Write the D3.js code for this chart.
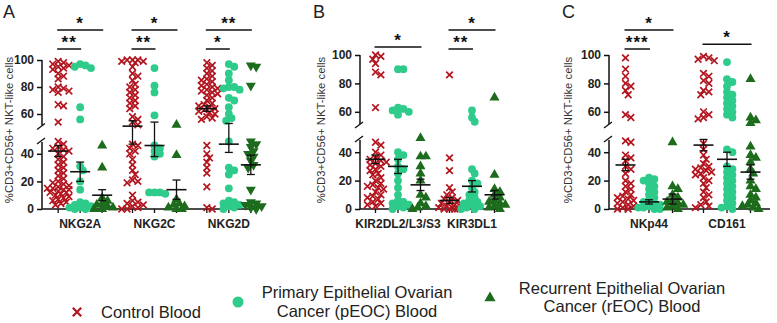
<!DOCTYPE html>
<html><head><meta charset="utf-8">
<script src="https://cdn.jsdelivr.net/npm/d3@7"></script>
<style>body{margin:0;background:#fff}svg{display:block}text{font-family:"Liberation Sans",Arial,sans-serif}</style>
</head><body><svg id="c" width="777" height="323"></svg>
<script>
const groups = ["Control Blood", "Primary Epithelial Ovarian Cancer (pEOC) Blood", "Recurrent Epithelial Ovarian Cancer (rEOC) Blood"];
const categories = ["NKG2A", "NKG2C", "NKG2D", "KIR2DL2/L3/S3", "KIR3DL1", "NKp44", "CD161"];
const panelLetters = ["A", "B", "C"];
const panelCategories = [[0, 1, 2], [3, 4], [5, 6]];
const yTitle = "%CD3+CD56+ NKT-like cells";
const yTicksLower = [0, 20, 40];
const yTicksUpper = [60, 80, 100];

const controlValues = [
  [99,98,97,96,95,94,93,90,88,86,80,79,78,77,76,67,66,54,49,47,45,44,43,42,40,38,36,34,32,30,28,26,24,22,20,19,18,17,16,15,15,14,14,13,12,12,11,10,9,8,7,6,5,4,3],
  [100,100,100,99,99,98,95,90,88,85,82,80,78,76,74,72,70,68,66,64,58,56,54,52,47,46,44,42,40,36,32,28,25,21,20,19,10,6,5,4,3,2,1,0,0],
  [98,96,94,92,90,88,86,85,84,82,81,80,79,78,77,76,75,74,72,70,68,67,66,65,64,63,62,61,60,58,57,56,46,40,37,34,30,26,16,1,0],
  [100,99,97,94,88,86,63,47,45,40,38,36,35,34,33,32,31,30,28,27,25,24,22,20,18,17,16,15,14,12,10,9,8,7,5,4,3,2],
  [86,36,27,15,12,10,8,7,6,5,4,3,2,2,1,1,0,0,0,0],
  [98,90,85,80,78,75,72,58,56,48,47,38,36,34,30,28,25,20,18,16,14,12,10,9,8,7,6,5,4,3,2,1,0,0],
  [99,98,97,96,87,85,82,80,75,74,72,60,58,56,55,46,42,38,35,32,30,29,28,27,26,25,24,22,20,18,15,12,10,8,5,3,2,1]
];
const pEOCValues = [
  [97,96,95,94,65,56,31,28,20,14,5,4,3,2,1,1,0,0],
  [94,81,76,59,46,44,42,40,38,12,12,12,11],
  [97,95,90,85,80,80,79,78,72,70,65,60,57,55,49,30,28,25,15,6,5,4,3,2,1,0],
  [90,90,63,62,61,60,58,40,38,35,30,28,25,20,15,10,6,5,4,3,2,1,0],
  [61,56,53,28,25,20,18,15,12,10,8,6,5,4,3,2,1,0,0],
  [22,21,20,18,16,14,12,10,8,6,5,4,3,2,1,1,0,0],
  [95,83,81,78,74,72,70,68,66,64,62,60,58,56,42,40,30,28,26,24,22,20,18,16,14,12,10,8,6,4,2,1,0]
];
const rEOCValues = [
  [46,30,8,6,4,3,2,1,0,0],
  [52,39,7,4,3,2,1,0,0],
  [96,95,81,49,47,45,42,40,38,35,32,30,14,5,4,3,2,1,0],
  [50,37,37,30,25,20,10,8,4,2,1,0],
  [70,24,14,12,10,8,6,5,4,3,2,1,0],
  [47,16,14,10,8,6,5,4,3,2,1,0],
  [83,56,54,52,44,38,36,33,28,25,20,16,14,10,8,6,4,3,2,1,0]
];
const meanValues = [[42,27,10],[51,46,14],[64,47,32],[35,30,17],[6,16,10],[31,5,7],[45,35,26]];
const semValues = [[4,7,4],[4,8,7],[2,6,7],[3,5,4],[2,4,3],[4,1.5,3.5],[4,5,5]];
const rEOCMarker = ["up","up","down","up","up","up","up"];
const significance = [
  {cat:0, from:0, to:2, label:"*", level:1},
  {cat:0, from:0, to:1, label:"**", level:0},
  {cat:1, from:0, to:2, label:"*", level:1},
  {cat:1, from:0, to:1, label:"**", level:0},
  {cat:2, from:0, to:2, label:"**", level:1},
  {cat:2, from:0, to:1, label:"*", level:0},
  {cat:3, from:0, to:2, label:"*", level:0.1},
  {cat:4, from:0, to:2, label:"*", level:1},
  {cat:4, from:0, to:1, label:"**", level:0},
  {cat:5, from:0, to:2, label:"*", level:1},
  {cat:5, from:0, to:1, label:"***", level:0},
  {cat:6, from:0, to:2, label:"*", level:0.25}
];

const colors = ["#b3151f", "#2ecb8b", "#1d6b1d"];
const layout = [
  {axisX:42, x0:43, x1:266, xEnd:258, yLow:[209,140], yUp:[127.5,60], titleX:9, letterX:3, off:22},
  {axisX:360, x0:361, x1:509, xEnd:503, yLow:[209,138], yUp:[126,55], titleX:321, letterX:313, off:22.5},
  {axisX:609, x0:610, x1:766, xEnd:770, yLow:[209,138], yUp:[126,55], titleX:568, letterX:562, off:23.5}
];

const svg = d3.select("#c");
const allValues = [controlValues, pEOCValues, rEOCValues];

function swarm(vals, yf) {
  const pts = vals.map(v => ({v, y: yf(v)})).sort((a, b) => a.y - b.y);
  const placed = [];
  const cands = [0];
  for (let k = 1; k <= 4; k++) { cands.push(k * 2.7, -k * 2.7); }
  pts.forEach(p => {
    let best = null, bestD = -1;
    for (const dx of cands) {
      let md = Infinity;
      for (const q of placed) {
        const d = Math.hypot(q.dx - dx, q.y - p.y);
        if (d < md) md = d;
      }
      if (md >= 4.4) { best = dx; break; }
      if (md > bestD) { bestD = md; best = dx; }
    }
    p.dx = best;
    placed.push(p);
  });
  return pts;
}

layout.forEach((L, pi) => {
  const g = svg.append("g");
  const cats = panelCategories[pi].map(i => categories[i]);
  const xBand = d3.scaleBand().domain(cats).range([L.x0, L.x1]);
  const xGroup = d3.scalePoint().domain([0, 1, 2]).range([-L.off, L.off]);
  const yLow = d3.scaleLinear().domain([0, 50]).range(L.yLow);
  const yUp = d3.scaleLinear().domain([50, 100]).range(L.yUp);
  const y = v => (v <= 50 ? yLow(v) : yUp(v));
  const cx = (ci, gi) => xBand(categories[ci]) + xBand.bandwidth() / 2 + xGroup(gi);

  const axLow = g.append("g").attr("transform", `translate(${L.axisX},0)`)
    .call(d3.axisLeft(yLow).tickValues(yTicksLower).tickSize(5).tickPadding(3));
  const axUp = g.append("g").attr("transform", `translate(${L.axisX},0)`)
    .call(d3.axisLeft(yUp).tickValues(yTicksUpper).tickSize(5).tickPadding(3));
  [axLow, axUp].forEach(a => {
    a.select(".domain").attr("d", null);
    a.selectAll("line").attr("stroke", "#111").attr("stroke-width", 1.5);
    a.selectAll("text").attr("font-size", 12).attr("font-weight", "bold").attr("fill", "#222")
      .attr("font-family", "'Liberation Sans',Arial,sans-serif");
  });
  g.append("line").attr("x1", L.axisX).attr("x2", L.axisX).attr("y1", yLow(0)).attr("y2", yLow(50) + 2)
    .attr("stroke", "#111").attr("stroke-width", 1.5);
  g.append("line").attr("x1", L.axisX).attr("x2", L.axisX).attr("y1", yUp(100)).attr("y2", yUp(50) - 2)
    .attr("stroke", "#111").attr("stroke-width", 1.5);
  [yUp(50) - 1, yLow(50) + 1].forEach(by => {
    g.append("line").attr("x1", L.axisX - 5).attr("y1", by + 3).attr("x2", L.axisX + 3).attr("y2", by - 3)
      .attr("stroke", "#111").attr("stroke-width", 1.3);
  });

  g.append("line").attr("x1", L.axisX).attr("x2", L.xEnd).attr("y1", yLow(0)).attr("y2", yLow(0))
    .attr("stroke", "#111").attr("stroke-width", 1.5);
  panelCategories[pi].forEach(ci => {
    [0, 1, 2].forEach(gi => {
      g.append("line").attr("x1", cx(ci, gi)).attr("x2", cx(ci, gi)).attr("y1", yLow(0)).attr("y2", yLow(0) + 4)
        .attr("stroke", "#111").attr("stroke-width", 1.3);
    });
  });
  const axB = g.append("g").attr("transform", `translate(0,${yLow(0)})`)
    .call(d3.axisBottom(xBand).tickSize(0).tickPadding(10));
  axB.select(".domain").remove();
  axB.selectAll("text").attr("font-size", 12).attr("font-weight", "bold").attr("fill", "#222")
    .attr("font-family", "'Liberation Sans',Arial,sans-serif");

  g.append("text").attr("transform", `translate(${L.titleX},130) rotate(-90)`)
    .attr("text-anchor", "middle").attr("dominant-baseline", "central")
    .attr("font-size", 11.3).attr("fill", "#333").text(yTitle);
  g.append("text").attr("x", L.letterX).attr("y", 18).attr("font-size", 18).attr("fill", "#222")
    .text(panelLetters[pi]);

  panelCategories[pi].forEach(ci => {
    [0, 1, 2].forEach(gi => {
      const pts = swarm(allValues[gi][ci], y);
      const x0 = cx(ci, gi);
      pts.forEach(p => {
        const px = x0 + p.dx, py = p.y;
        if (gi === 0) {
          const s = 3.3;
          g.append("path").attr("d", `M${px - s},${py - s}L${px + s},${py + s}M${px - s},${py + s}L${px + s},${py - s}`)
            .attr("stroke", colors[0]).attr("stroke-width", 1.7).attr("fill", "none");
        } else if (gi === 1) {
          g.append("circle").attr("cx", px).attr("cy", py).attr("r", 3.9).attr("fill", colors[1]);
        } else {
          const rot = rEOCMarker[ci] === "down" ? 180 : 0;
          g.append("path").attr("d", d3.symbol(d3.symbolTriangle, 44)())
            .attr("transform", `translate(${px},${py}) rotate(${rot})`).attr("fill", colors[2]);
        }
      });
      const m = meanValues[ci][gi], s = semValues[ci][gi];
      g.append("line").attr("x1", x0 - 10).attr("x2", x0 + 10).attr("y1", y(m)).attr("y2", y(m))
        .attr("stroke", "#111").attr("stroke-width", 1.6);
      g.append("line").attr("x1", x0).attr("x2", x0).attr("y1", y(m - s)).attr("y2", y(m + s))
        .attr("stroke", "#111").attr("stroke-width", 1.3);
      [m - s, m + s].forEach(v => {
        g.append("line").attr("x1", x0 - 4).attr("x2", x0 + 4).attr("y1", y(v)).attr("y2", y(v))
          .attr("stroke", "#111").attr("stroke-width", 1.3);
      });
    });
  });

  significance.filter(s => panelCategories[pi].includes(s.cat)).forEach(s => {
    const by = 49 - s.level * 19;
    const xa = cx(s.cat, s.from) - 1, xb = cx(s.cat, s.to) + 1;
    g.append("line").attr("x1", xa).attr("x2", xb).attr("y1", by).attr("y2", by)
      .attr("stroke", "#111").attr("stroke-width", 1.5);
    g.append("text").attr("x", (xa + xb) / 2).attr("y", by - 1).attr("text-anchor", "middle")
      .attr("font-size", 17).attr("font-weight", "bold").attr("fill", "#111").attr("letter-spacing", 1)
      .text(s.label);
  });
});

const lg = svg.append("g");
const fs = 16.5;
{
  const x = 77, y = 312, s = 4.2;
  lg.append("path").attr("d", `M${x - s},${y - s}L${x + s},${y + s}M${x - s},${y + s}L${x + s},${y - s}`)
    .attr("stroke", colors[0]).attr("stroke-width", 2.2);
  lg.append("text").attr("x", 101).attr("y", y).attr("dominant-baseline", "central")
    .attr("font-size", fs).attr("fill", "#222").text(groups[0]);
}
lg.append("circle").attr("cx", 238).attr("cy", 302).attr("r", 5.5).attr("fill", colors[1]);
[["Primary Epithelial Ovarian", 292], ["Cancer (pEOC) Blood", 311]].forEach(([t, yy]) => {
  lg.append("text").attr("x", 357).attr("y", yy).attr("text-anchor", "middle").attr("dominant-baseline", "central")
    .attr("font-size", fs).attr("fill", "#222").text(t);
});
lg.append("path").attr("d", d3.symbol(d3.symbolTriangle, 55)()).attr("transform", "translate(490,298)").attr("fill", colors[2]);
[["Recurrent Epithelial Ovarian", 288], ["Cancer (rEOC) Blood", 306]].forEach(([t, yy]) => {
  lg.append("text").attr("x", 622).attr("y", yy).attr("text-anchor", "middle").attr("dominant-baseline", "central")
    .attr("font-size", fs).attr("fill", "#222").text(t);
});
</script></body></html>
